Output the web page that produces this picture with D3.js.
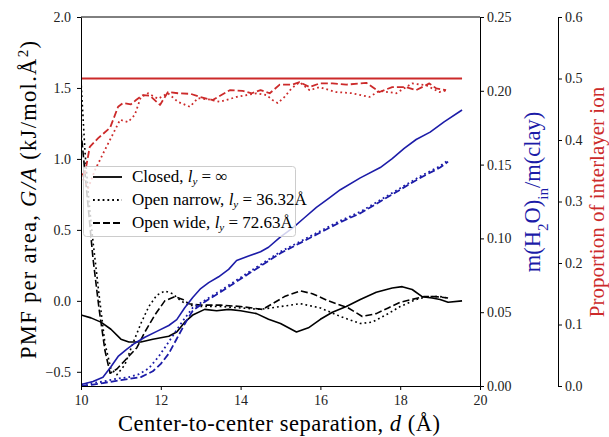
<!DOCTYPE html>
<html>
<head>
<meta charset="utf-8">
<script src="https://cdn.jsdelivr.net/npm/d3@7"></script>
<style>
  body { margin: 0; background: #fff; }
  svg { font-family: "Liberation Serif", "DejaVu Serif", serif; }
</style>
</head>
<body>
<div id="chart"></div>
<script>
const width = 609;
const height = 437;
const margin = { top: 17, right: 129, bottom: 51, left: 81 };

// ----- Data -----
// PMF per area (left axis)
const closedD   = [10.0, 10.25, 10.5, 10.75, 11.0, 11.2, 11.5, 11.8, 12.2, 12.4, 12.6, 12.8, 13.1, 13.4, 13.7, 14.0, 14.4, 14.7, 15.0, 15.4, 15.7, 16.0, 16.3, 16.65, 17.0, 17.4, 17.8, 18.05, 18.3, 18.55, 18.8, 19.0, 19.2, 19.55];
const closedPMF = [-0.10, -0.12, -0.15, -0.20, -0.27, -0.29, -0.29, -0.27, -0.25, -0.22, -0.15, -0.10, -0.06, -0.07, -0.06, -0.07, -0.09, -0.13, -0.16, -0.22, -0.19, -0.13, -0.08, -0.04, 0.01, 0.06, 0.09, 0.10, 0.08, 0.03, 0.02, 0.01, -0.01, 0.00];

const narrowD   = [10.0, 10.1, 10.2, 10.3, 10.45, 10.6, 10.75, 10.9, 11.1, 11.3, 11.5, 11.7, 11.9, 12.1, 12.3, 12.5, 12.7, 13.0, 13.5, 14.0, 14.5, 15.0, 15.5, 16.0, 16.5, 17.0, 17.3, 17.7, 18.0, 18.4, 18.7, 19.0, 19.2];
const narrowPMF = [1.55, 1.05, 0.70, 0.42, 0.05, -0.30, -0.48, -0.52, -0.45, -0.30, -0.16, -0.04, 0.04, 0.07, 0.05, 0.00, -0.03, -0.04, -0.04, -0.05, -0.06, -0.04, -0.02, -0.05, -0.11, -0.16, -0.15, -0.09, -0.04, 0.01, 0.03, 0.03, 0.02];

const wideD     = [10.0, 10.1, 10.2, 10.3, 10.45, 10.6, 10.73, 10.9, 11.1, 11.4, 11.6, 11.85, 12.1, 12.35, 12.55, 12.7, 13.0, 13.5, 14.0, 14.55, 14.8, 15.1, 15.5, 15.8, 16.2, 16.7, 17.05, 17.4, 17.7, 18.0, 18.3, 18.6, 18.9, 19.2];
const widePMF   = [1.20, 0.90, 0.60, 0.30, -0.05, -0.35, -0.51, -0.48, -0.42, -0.33, -0.22, -0.10, 0.00, 0.03, 0.01, -0.02, -0.03, -0.03, -0.04, -0.06, -0.02, 0.03, 0.07, 0.05, 0.00, -0.05, -0.11, -0.09, -0.05, -0.01, 0.01, 0.03, 0.03, 0.02];

// m(H2O)in / m(clay) (first right axis)
const waterClosedD = [10.0, 10.3, 10.55, 10.75, 10.93, 11.15, 11.35, 11.6, 11.9, 12.2, 12.4, 12.6, 12.8, 13.0, 13.2, 13.45, 13.7, 13.9, 14.2, 14.5, 14.7, 15.0, 15.3, 15.6, 15.9, 16.2, 16.5, 17.0, 17.5, 17.8, 18.1, 18.4, 18.75, 19.1, 19.55];
const waterClosed  = [0.001, 0.003, 0.006, 0.013, 0.020, 0.025, 0.029, 0.033, 0.037, 0.041, 0.045, 0.053, 0.060, 0.066, 0.070, 0.074, 0.079, 0.085, 0.088, 0.091, 0.094, 0.101, 0.107, 0.114, 0.121, 0.127, 0.133, 0.141, 0.148, 0.154, 0.161, 0.167, 0.172, 0.179, 0.187];

const waterNarrowD = [10.0, 10.3, 10.55, 10.9, 11.2, 11.45, 11.7, 11.95, 12.15, 12.35, 12.55, 12.8, 13.1, 13.4, 13.8, 14.2, 14.6, 15.0, 15.5, 16.0, 16.5, 17.0, 17.5, 18.0, 18.5, 19.0, 19.2];
const waterNarrow  = [0.001, 0.002, 0.003, 0.005, 0.006, 0.008, 0.012, 0.020, 0.028, 0.036, 0.044, 0.053, 0.058, 0.063, 0.070, 0.077, 0.084, 0.091, 0.098, 0.105, 0.112, 0.118, 0.126, 0.134, 0.142, 0.149, 0.153];

const waterWideD   = [10.0, 10.3, 10.55, 11.0, 11.5, 11.8, 12.0, 12.2, 12.4, 12.6, 12.8, 13.1, 13.4, 13.8, 14.2, 14.6, 15.0, 15.5, 16.0, 16.5, 17.0, 17.5, 18.0, 18.5, 19.0, 19.2];
const waterWide    = [0.000, 0.001, 0.002, 0.004, 0.006, 0.010, 0.015, 0.022, 0.032, 0.042, 0.051, 0.057, 0.062, 0.069, 0.076, 0.083, 0.090, 0.097, 0.104, 0.111, 0.117, 0.125, 0.133, 0.141, 0.148, 0.152];

// Proportion of interlayer ion (second right axis)
const ionClosedD = [10.0, 19.55];
const ionClosed  = [0.5, 0.5];

const ionNarrowD = [10.0, 10.18, 10.35, 10.6, 10.85, 10.98, 11.18, 11.35, 11.5, 11.68, 11.93, 12.18, 12.43, 12.73, 12.93, 13.2, 13.48, 13.9, 14.4, 14.65, 14.8, 14.93, 15.1, 15.28, 15.48, 15.73, 15.98, 16.23, 16.4, 16.8, 17.23, 17.48, 17.9, 18.3, 18.65, 18.98, 19.18];
const ionNarrow  = [0.343, 0.322, 0.351, 0.384, 0.416, 0.433, 0.429, 0.441, 0.470, 0.476, 0.467, 0.476, 0.462, 0.454, 0.468, 0.466, 0.462, 0.470, 0.476, 0.473, 0.465, 0.460, 0.470, 0.484, 0.494, 0.481, 0.486, 0.481, 0.478, 0.476, 0.470, 0.480, 0.476, 0.492, 0.489, 0.478, 0.481];

const ionWideD = [10.0, 10.1, 10.22, 10.43, 10.73, 10.93, 11.05, 11.25, 11.38, 11.55, 11.73, 11.98, 12.18, 12.43, 12.75, 12.98, 13.3, 13.73, 14.05, 14.28, 14.5, 14.73, 14.98, 15.3, 15.48, 15.73, 15.98, 16.3, 16.65, 17.15, 17.48, 17.8, 18.15, 18.4, 18.73, 18.9, 19.15];
const ionWide  = [0.343, 0.346, 0.389, 0.403, 0.420, 0.454, 0.460, 0.458, 0.465, 0.473, 0.472, 0.457, 0.478, 0.476, 0.475, 0.470, 0.465, 0.481, 0.480, 0.476, 0.481, 0.476, 0.490, 0.490, 0.494, 0.486, 0.492, 0.492, 0.490, 0.493, 0.478, 0.486, 0.486, 0.481, 0.492, 0.484, 0.481];

// Ticks
const xTicks = [10, 12, 14, 16, 18, 20];
const pmfTicks = [-0.5, 0.0, 0.5, 1.0, 1.5, 2.0];
const waterTicks = [0.00, 0.05, 0.10, 0.15, 0.20, 0.25];
const ionTicks = [0.0, 0.1, 0.2, 0.3, 0.4, 0.5, 0.6];

const black = "#000";
const blue = "#1c1ca8";
const red = "#cc2a2a";

const svg = d3.select("#chart")
    .append("svg")
    .attr("width", width)
    .attr("height", height);

// Scales
const x = d3.scaleLinear().domain([10, 20]).range([margin.left, width - margin.right]);
const yPMF = d3.scaleLinear().domain([-0.6, 2.0]).range([height - margin.bottom, margin.top]);
const yWater = d3.scaleLinear().domain([0, 0.25]).range([height - margin.bottom, margin.top]);
const yIon = d3.scaleLinear().domain([0, 0.6]).range([height - margin.bottom, margin.top]);

const plotRight = x(20);
const ionAxisX = 558;

// Clip to plot area
svg.append("clipPath").attr("id", "clip")
  .append("rect")
    .attr("x", margin.left).attr("y", margin.top)
    .attr("width", plotRight - margin.left)
    .attr("height", height - margin.bottom - margin.top);

const plot = svg.append("g").attr("clip-path", "url(#clip)");

function drawLine(xs, ys, yScale, color, dash, w) {
    const pts = xs.map((d, i) => [d, ys[i]]);
    const line = d3.line().x(p => x(p[0])).y(p => yScale(p[1]));
    plot.append("path")
        .datum(pts)
        .attr("fill", "none")
        .attr("stroke", color)
        .attr("stroke-width", w || 1.6)
        .attr("stroke-dasharray", dash)
        .attr("stroke-linejoin", "round")
        .attr("d", line);
}

const DASH = "7,3";
const DOT = "1.8,3";

// PMF curves
drawLine(closedD, closedPMF, yPMF, black, null);
drawLine(narrowD, narrowPMF, yPMF, black, DOT);
drawLine(wideD, widePMF, yPMF, black, DASH);

// Water content curves
drawLine(waterClosedD, waterClosed, yWater, blue, null);
drawLine(waterNarrowD, waterNarrow, yWater, blue, DOT, 1.8);
drawLine(waterWideD, waterWide, yWater, blue, DASH, 1.8);

// Ion proportion curves
drawLine(ionClosedD, ionClosed, yIon, red, null, 1.8);
drawLine(ionNarrowD, ionNarrow, yIon, red, DOT, 1.8);
drawLine(ionWideD, ionWide, yIon, red, DASH, 1.8);

// ----- Axes -----
function styleAxis(g) {
    g.selectAll("path").attr("stroke", "#000").attr("stroke-width", 1);
    g.selectAll("line").attr("stroke", "#000");
    g.selectAll("text").attr("font-family", "Liberation Serif, serif").attr("font-size", 14).attr("fill", "#222");
}

svg.append("g")
    .attr("transform", `translate(0, ${height - margin.bottom})`)
    .call(d3.axisBottom(x).tickValues(xTicks).tickSize(4).tickSizeOuter(0).tickPadding(5))
    .call(styleAxis);

svg.append("g")
    .attr("transform", `translate(${margin.left}, 0)`)
    .call(d3.axisLeft(yPMF).tickValues(pmfTicks).tickFormat(d3.format(".1f")).tickSize(4).tickSizeOuter(0).tickPadding(6))
    .call(styleAxis);

svg.append("g")
    .attr("transform", `translate(${plotRight}, 0)`)
    .call(d3.axisRight(yWater).tickValues(waterTicks).tickFormat(d3.format(".2f")).tickSize(4).tickSizeOuter(0).tickPadding(3))
    .call(styleAxis);

svg.append("g")
    .attr("transform", `translate(${ionAxisX}, 0)`)
    .call(d3.axisRight(yIon).tickValues(ionTicks).tickFormat(d3.format(".1f")).tickSize(4).tickSizeOuter(0).tickPadding(3))
    .call(styleAxis);

// top spine
svg.append("line")
    .attr("x1", margin.left).attr("x2", plotRight)
    .attr("y1", margin.top).attr("y2", margin.top)
    .attr("stroke", "#000");

// ----- Axis labels -----
const xl = svg.append("text")
    .attr("x", 279)
    .attr("y", 431)
    .attr("text-anchor", "middle")
    .attr("font-size", 22.5)
    .attr("textLength", 322)
    .attr("lengthAdjust", "spacing");
xl.append("tspan").text("Center-to-center separation, ");
xl.append("tspan").attr("font-style", "italic").text("d");
xl.append("tspan").text(" (Å)");

const yl = svg.append("text")
    .attr("transform", `translate(36, 200) rotate(-90)`)
    .attr("text-anchor", "middle")
    .attr("font-size", 22.5)
    .attr("textLength", 318)
    .attr("lengthAdjust", "spacing");
yl.append("tspan").text("PMF per area, ");
yl.append("tspan").attr("font-style", "italic").text("G/A");
yl.append("tspan").text(" (kJ/mol.Å");
yl.append("tspan").attr("baseline-shift", "super").attr("font-size", 15).text("2");
yl.append("tspan").text(")");

const wl = svg.append("text")
    .attr("transform", `translate(540, 192) rotate(-90)`)
    .attr("text-anchor", "middle")
    .attr("font-size", 22.5)
    .attr("fill", blue);
wl.append("tspan").text("m(H");
wl.append("tspan").attr("baseline-shift", "sub").attr("font-size", 15).text("2");
wl.append("tspan").text("O)");
wl.append("tspan").attr("baseline-shift", "sub").attr("font-size", 15).text("in");
wl.append("tspan").text("/m(clay)");

svg.append("text")
    .attr("transform", `translate(604, 202) rotate(-90)`)
    .attr("text-anchor", "middle")
    .attr("font-size", 21)
    .attr("fill", red)
    .text("Proportion of interlayer ion");

// ----- Legend -----
const legendItems = [
    { name: "Closed, ", value: " = ∞", dash: null },
    { name: "Open narrow, ", value: " = 36.32Å", dash: DOT },
    { name: "Open wide, ", value: " = 72.63Å", dash: DASH }
];

const legend = svg.append("g");
legend.append("rect")
    .attr("x", 83.5).attr("y", 166.5)
    .attr("width", 212).attr("height", 70)
    .attr("rx", 3)
    .attr("fill", "#fff").attr("fill-opacity", 0.8)
    .attr("stroke", "#ccc");

legendItems.forEach((it, i) => {
    const ly = 177 + i * 23;
    legend.append("line")
        .attr("x1", 93).attr("x2", 122)
        .attr("y1", ly).attr("y2", ly)
        .attr("stroke", "#000").attr("stroke-width", 1.8)
        .attr("stroke-dasharray", it.dash);
    const t = legend.append("text")
        .attr("x", 132).attr("y", ly + 5)
        .attr("font-size", 17);
    t.append("tspan").text(it.name);
    t.append("tspan").attr("font-style", "italic").text("l");
    t.append("tspan").attr("font-style", "italic").attr("font-size", 11).attr("dy", 3).text("y");
    t.append("tspan").attr("dy", -3).text(it.value);
});
</script>
</body>
</html>
